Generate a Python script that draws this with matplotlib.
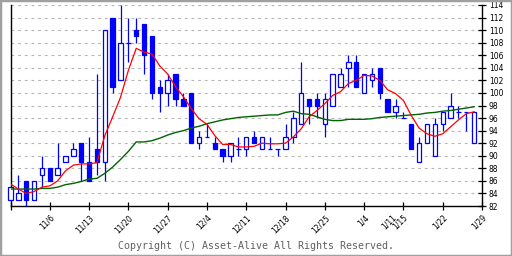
import matplotlib
matplotlib.use('Agg')
import matplotlib.pyplot as plt
from matplotlib.patches import Rectangle

# daily candles (open, high, low, close)
opens = [83, 83, 86, 83, 87, 88, 87, 89, 90, 92, 89, 91, 89, 112, 102, 108, 110, 111, 109, 101,
         100, 103, 99, 100, 92, 93, 92, 91, 90, 91, 91, 93, 91, 91, 91, 91, 93, 95, 99, 99,
         95, 98, 101, 104, 105, 100, 102, 104, 99, 97, 96, 95, 89, 92, 90, 95, 96, 97, 97, 92]
highs = [85, 87, 86, 86, 90, 88, 92, 90, 92, 92, 93, 103, 110, 112, 114, 112, 112, 111, 109, 102,
         103, 103, 100, 100, 94, 95, 93, 91, 92, 93, 93, 94, 93, 93, 91, 95, 97, 105, 99, 100,
         100, 103, 104, 106, 106, 103, 104, 104, 99, 99, 97, 95, 93, 95, 96, 97, 100, 98, 97, 97]
lows = [83, 83, 82, 83, 85, 86, 87, 89, 90, 86, 86, 87, 86, 100, 102, 105, 108, 103, 99, 97,
        98, 98, 98, 92, 91, 93, 91, 89, 89, 90, 90, 92, 91, 91, 90, 91, 92, 95, 95, 96,
        93, 98, 101, 101, 101, 100, 101, 99, 97, 96, 96, 91, 89, 92, 90, 94, 96, 96, 94, 92]
closes = [85, 84, 83, 86, 88, 86, 88, 90, 91, 89, 86, 89, 110, 101, 108, 108, 109, 106, 100, 100,
          102, 99, 98, 92, 93, 93, 91, 90, 92, 91, 93, 92, 93, 91, 91, 93, 96, 100, 98, 98,
          99, 103, 103, 105, 101, 103, 103, 100, 97, 98, 96, 91, 92, 95, 95, 97, 98, 97, 97, 97]

# moving averages
ma_short = [85.5, 84.7, 84.0, 84.3, 85.0, 85.2, 86.0, 87.6, 88.5, 88.7,
            88.7, 88.9, 93.2, 96.2, 99.3, 103.6, 107.1, 106.5, 106.2, 104.3,
            103.0, 101.0, 99.4, 97.5, 95.9, 95.0, 93.2, 91.8, 91.8, 91.4,
            91.4, 91.5, 92.0, 91.9, 91.9, 92.0, 93.0, 94.3, 96.2, 97.2,
            98.3, 99.6, 100.2, 101.5, 102.0, 102.8, 102.7, 102.0, 100.5, 99.9,
            98.8, 96.4, 94.4, 93.5, 93.1, 93.5, 94.6, 95.7, 96.7, 97.0]
ma_long = [84.7, 84.7, 84.7, 84.7, 84.8, 84.8, 85.0, 85.4, 85.6, 85.9,
           86.3, 86.4, 87.2, 88.2, 89.4, 90.7, 92.2, 92.2, 92.4, 92.8,
           93.3, 93.7, 94.0, 94.4, 94.7, 95.1, 95.4, 95.7, 95.9, 96.1,
           96.2, 96.3, 96.4, 96.5, 96.5, 96.9, 97.1, 96.7, 96.6, 96.2,
           95.8, 95.6, 95.6, 95.8, 95.8, 95.8, 95.9, 96.1, 96.2, 96.3,
           96.4, 96.5, 96.6, 96.8, 96.9, 97.1, 97.2, 97.4, 97.6, 97.8]

tick_pos = [5, 10, 15, 20, 25, 30, 35, 40, 45, 50, 55, 60]
tick_labels = ['11/6', '11/13', '11/20', '11/27', '12/4', '12/11', '12/18',
               '12/25', '1/4', '1/15', '1/22', '1/29']
extra_pos = [48.5]
extra_labels = ['1/11']

BLUE = '#0000ff'
W = 0.56

fig = plt.figure(figsize=(5.12, 2.56), dpi=100)
fig.patch.set_facecolor('white')
ax = fig.add_axes([10.5 / 512, 50 / 256, 471.5 / 512, 201 / 256])

ax.set_xlim(0, 60)
ax.set_ylim(82, 114)

# 网格
ax.set_yticks(range(82, 115, 2))
ax.grid(axis='y', color='#b4b4b4', linestyle=(0, (2.5, 3.5)), linewidth=0.8)
ax.set_axisbelow(True)

# candles
for i in range(len(opens)):
    o, h, l, c = opens[i], highs[i], lows[i], closes[i]
    ax.vlines(i, l, h, color=BLUE, lw=0.9, zorder=3, clip_on=False)
    if c > o:
        ax.add_patch(Rectangle((i - W / 2, o), W, c - o, facecolor='white',
                               edgecolor=BLUE, lw=0.9, zorder=4, clip_on=False))
    elif c < o:
        ax.add_patch(Rectangle((i - W / 2, c), W, o - c, facecolor=BLUE,
                               edgecolor=BLUE, lw=0.9, zorder=4, clip_on=False))
    else:
        ax.hlines(o, i - W / 2, i + W / 2, color=BLUE, lw=0.9, zorder=4, clip_on=False)

x = list(range(len(ma_short)))
ax.plot(x, ma_long, color='#006400', lw=1.0, zorder=5)
ax.plot(x, ma_short, color='#ff0000', lw=0.9, zorder=6)

# axes style
ax.spines['top'].set_visible(False)
for s in ['left', 'right', 'bottom']:
    ax.spines[s].set_color('black')
    ax.spines[s].set_linewidth(1.0)

ax.yaxis.tick_right()
ax.tick_params(axis='y', direction='inout', length=6, width=0.9, labelsize=5.5, pad=2)

ax.set_xticks([0] + tick_pos)
ax.set_xticklabels([''] + tick_labels)
ax.set_xticks(extra_pos, minor=True)
ax.set_xticklabels(extra_labels, minor=True)
ax.tick_params(axis='x', which='major', direction='inout', length=6, width=0.9,
               labelsize=5.5, pad=2)
ax.tick_params(axis='x', which='minor', length=0, labelsize=5.5, pad=5)
for lab in ax.get_xticklabels(which='both'):
    lab.set_rotation(45)
    lab.set_ha('right')
    lab.set_va('top')
    lab.set_rotation_mode('anchor')

fig.text(0.5, 10 / 256, 'Copyright (C) Asset-Alive All Rights Reserved.',
         ha='center', va='center', family='DejaVu Sans Mono', fontsize=7.2,
         color='#606060')

fig.patches.append(Rectangle((0, 0), 1, 1, transform=fig.transFigure, fill=False,
                             edgecolor='#a0a0a0', lw=2.5))

fig.savefig('out.png', dpi=100)
